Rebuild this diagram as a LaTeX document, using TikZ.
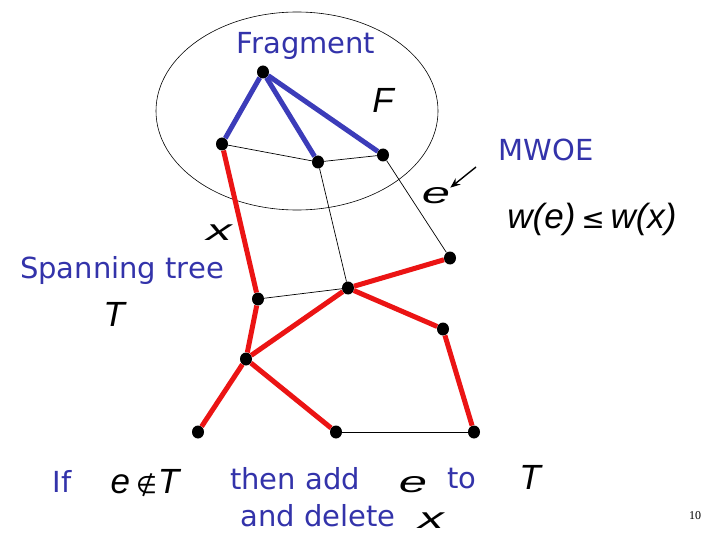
\documentclass[tikz,border=0pt]{standalone}
\usepackage{fontspec}
\setmainfont{DejaVu Sans}
\newfontfamily\varfont{Liberation Sans}
\newfontfamily\symfont{DejaVu Sans}
\newfontfamily\pagefont{Liberation Serif}
\usepackage{graphicx}
\usepackage{tikz}
\usetikzlibrary{positioning, arrows.meta, shapes.geometric}
\definecolor{slideblue}{RGB}{51,51,170}
\definecolor{fragblue}{RGB}{60,60,185}
\definecolor{treered}{RGB}{235,20,20}
\newcommand{\widevar}[1]{\scalebox{1.45}[0.85]{#1}}

\begin{document}
\begin{tikzpicture}[x=1pt, y=-1pt]
	% Define styles
	\tikzset{
		vertex/.style={ellipse, fill=black, minimum width=12pt, minimum height=13pt, inner sep=0pt},
		tree/.style={draw=treered, line width=5pt},
		frag/.style={draw=fragblue, line width=5pt},
		thin/.style={draw, line width=0.7pt},
		blue label/.style={text=slideblue, inner sep=0pt, font=\fontsize{29}{33}\selectfont},
		var/.style={inner sep=0pt, font=\varfont\itshape\fontsize{35}{39}\selectfont}
	}
	\useasboundingbox (0,0) rectangle (720,540);
	% Fragment
	\draw[line width=0.6pt] (297,111) ellipse [x radius=141, y radius=99];
	% Nodes
	\node[vertex] (root) at (263,72) {};
	\node[vertex] (fa) at (222,144) {};
	\node[vertex] (fb) at (318,162) {};
	\node[vertex] (fc) at (383,155) {};
	\node[vertex] (ve) at (450,258) {};
	\node[vertex] (hub) at (348,288) {};
	\node[vertex] (vl) at (258,299) {};
	\node[vertex] (vr) at (443,329) {};
	\node[vertex] (vk) at (246,359) {};
	\node[vertex] (b1) at (198,432) {};
	\node[vertex] (b2) at (336,432) {};
	\node[vertex] (b3) at (474,432) {};
	
	% Labels
	\node[blue label] (fragment) at (306,46) {Fragment};
	\node[var] (fname) at (383,100) {F};
	\node[blue label] (mwoe) at (546,150) {MWOE};
	\node[var] (elabel) at (436,196) {\widevar{e}};
	\node[var] (weight) at (592,219) {w(e)\,{\symfont\fontsize{28}{32}\selectfont ≤}\,w(x)};
	\node[var] (xlabel) at (219,233) {\widevar{x}};
	\node[blue label] (spanning) at (122,270) {Spanning tree};
	\node[var] (tname) at (114,314) {T};
	
	\node[blue label] (if) at (62,481) {If};
	\node[var] (notin) at (145,483) {e\hspace{6pt}{\symfont\fontsize{24}{28}\selectfont ∉}\hspace{1pt}T};
	\node[blue label] (thenadd) at (295,479) {then add};
	\node[var] (eadd) at (413,485) {\widevar{e}};
	\node[blue label] (to) at (462,479) {to};
	\node[var] (tadd) at (530,477) {T};
	\node[blue label] (delete) at (318,516) {and delete};
	\node[var] (xdel) at (431,521) {\widevar{x}};
	\node[font=\pagefont\fontsize{12}{14}\selectfont] (page) at (695,516) {10};
	
	% Edges
	\draw[frag] (root) -- (fa);
	\draw[frag] (root) -- (fb);
	\draw[frag] (root) -- (fc);
	
	\draw[thin] (fa) -- (fb);
	\draw[thin] (fb) -- (fc);
	\draw[thin] (fb) -- (hub);
	\draw[thin] (fc) -- (ve);
	\draw[thin] (vl) -- (hub);
	\draw[thin] (b2) -- (b3);
	
	\draw[tree] (fa) -- (vl);
	\draw[tree] (vl) -- (vk);
	\draw[tree] (vk) -- (hub);
	\draw[tree] (hub) -- (ve);
	\draw[tree] (hub) -- (vr);
	\draw[tree] (vr) -- (b3);
	\draw[tree] (vk) -- (b1);
	\draw[tree] (vk) -- (b2);
	
	% Arrow
	\coordinate (tail) at (476,167);
	\draw[-{Stealth[length=10pt, width=8pt]}, line width=1.4pt] (tail) -- (elabel.north east);
\end{tikzpicture}
\end{document}
